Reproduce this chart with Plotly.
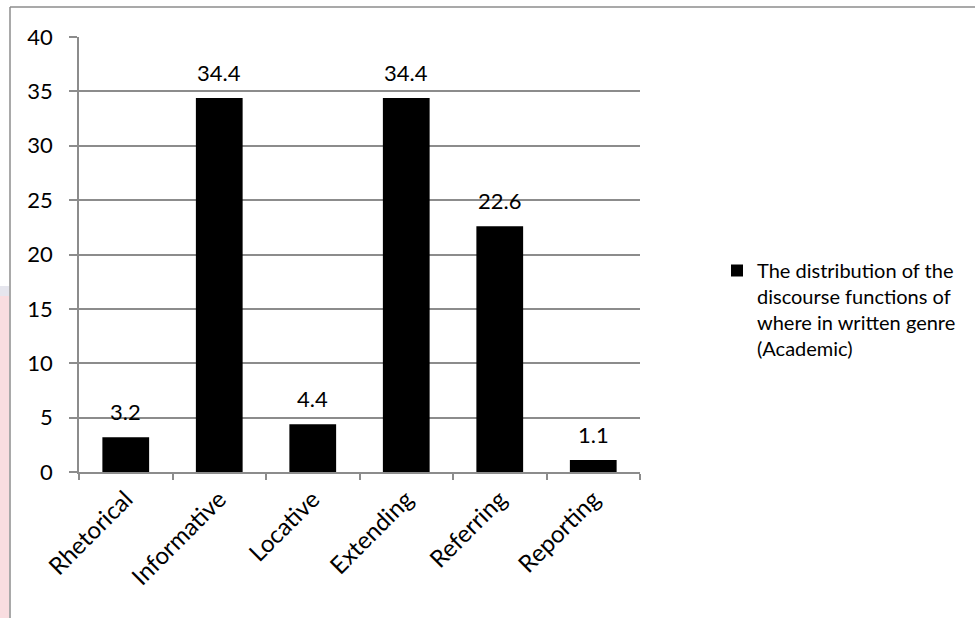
import plotly.graph_objects as go

categories = ["Rhetorical", "Informative", "Locative", "Extending", "Referring", "Reporting"]
values = [3.2, 34.4, 4.4, 34.4, 22.6, 1.1]
series_name = "The distribution of the<br>discourse functions of<br>where in written genre<br>(Academic)"
y_ticks = [0, 5, 10, 15, 20, 25, 30, 35, 40]

FONT = "Lato"
FS = 22
W, H = 975, 618
L, R, T, B = 79, 640, 37, 472  # plot area in pixels

def px_x(x):
    return (x - L) / (R - L)

def px_y(y):
    return (B - y) / (B - T)

fig = go.Figure()
fig.add_trace(go.Bar(
    x=categories, y=values, name=series_name,
    marker=dict(color="black", line=dict(width=0)),
    showlegend=True,
))

annotations = [
    dict(x=c, y=v, xref="x", yref="y", text=f"{v}", showarrow=False,
         yanchor="bottom", yshift=10, font=dict(family=FONT, size=FS, color="black"))
    for c, v in zip(categories, values)
]

shapes = [
    dict(type="rect", xref="paper", yref="paper", x0=px_x(0), x1=px_x(9), y0=px_y(618), y1=px_y(296),
         fillcolor="#f9dde0", line=dict(width=0), layer="below"),
    dict(type="rect", xref="paper", yref="paper", x0=px_x(0), x1=px_x(9), y0=px_y(296), y1=px_y(286),
         fillcolor="#e6e6ee", line=dict(width=0), layer="below"),
    dict(type="line", xref="paper", yref="paper", x0=px_x(10), x1=px_x(10), y0=px_y(7), y1=px_y(620),
         line=dict(color="#8c8c8c", width=1.5)),
    dict(type="line", xref="paper", yref="paper", x0=px_x(10), x1=px_x(978), y0=px_y(7), y1=px_y(7),
         line=dict(color="#8c8c8c", width=1.5)),
]

fig.update_layout(
    width=W, height=H,
    margin=dict(l=L, r=W - R, t=T, b=H - B, pad=0, autoexpand=False),
    paper_bgcolor="white", plot_bgcolor="white",
    font=dict(family=FONT, size=FS, color="black"),
    bargap=0.5,
    shapes=shapes,
    annotations=annotations,
    legend=dict(x=px_x(717), y=px_y(251), xanchor="left", yanchor="top",
                font=dict(family=FONT, size=20, color="black"),
                valign="top", itemwidth=30, tracegroupgap=0,
                bgcolor="rgba(0,0,0,0)"),
    showlegend=True,
)
fig.update_xaxes(
    type="category", tickangle=-45, showgrid=False,
    showline=True, linecolor="#8c8c8c", linewidth=1.5,
    ticks="outside", tickson="boundaries", ticklen=6, tickcolor="#8c8c8c", tickwidth=1.5,
    tickfont=dict(family=FONT, size=24, color="black"),
    ticklabelstandoff=2,
)
fig.update_yaxes(
    range=[0, 40], tickvals=y_ticks, ticktext=[str(t) for t in y_ticks],
    showgrid=True, gridcolor="#8c8c8c", gridwidth=1.5,
    showline=True, linecolor="#8c8c8c", linewidth=1.5,
    ticks="outside", ticklen=8, tickcolor="#8c8c8c", tickwidth=1.5,
    tickfont=dict(family=FONT, size=FS, color="black"),
    ticklabelstandoff=12,
    zeroline=False,
)

fig.write_html("out.html")
